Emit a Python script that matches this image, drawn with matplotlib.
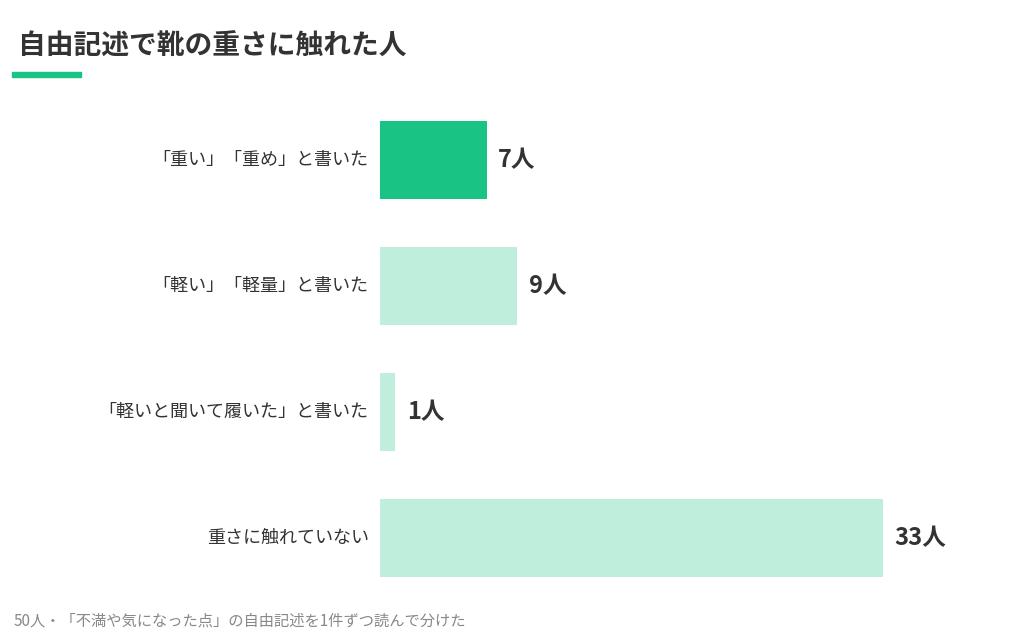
import matplotlib
matplotlib.use("Agg")
import matplotlib.pyplot as plt
from matplotlib.patches import Rectangle

plt.rcParams['font.family'] = ['Noto Sans CJK JP', 'DejaVu Sans']

categories = ["「重い」「重め」と書いた", "「軽い」「軽量」と書いた",
              "「軽いと聞いて履いた」と書いた", "重さに触れていない"]
counts = [7, 9, 1, 33]
colors = ["#18c384", "#c0eedc", "#c0eedc", "#c0eedc"]

W, H = 1024, 640
fig = plt.figure(figsize=(W / 100, H / 100), dpi=100)
fig.patch.set_facecolor("white")

# axes placed in pixel coords: x 380..1000, y 97..601
ax = fig.add_axes([380 / W, 1 - 601 / H, 620 / W, 504 / H])
ax.set_xlim(0, 620 / 15.24)
ax.set_ylim(3.5, -0.5)
ypos = range(len(categories))
ax.barh(ypos, counts, height=0.62, color=colors)
for y, c, lab in zip(ypos, counts, categories):
    ax.text(c + 0.75, y, f"{c}人", va="center", ha="left", fontsize=17,
            fontweight="bold", color="#333333")
    ax.text(-0.75, y, lab, va="center", ha="right", fontsize=13, color="#333333")
ax.axis("off")

fig.text(18 / W, 1 - 47 / H, "自由記述で靴の重さに触れた人", fontsize=20,
         fontweight="bold", color="#333333", va="center", ha="left")
fig.patches.append(Rectangle((12 / W, 1 - 77 / H), 69 / W, 5 / H,
                             transform=fig.transFigure, color="#18c384"))
fig.text(14 / W, 1 - 621 / H, "50人・「不満や気になった点」の自由記述を1件ずつ読んで分けた",
         fontsize=11, color="#888888", va="center", ha="left")

fig.savefig("out.png", dpi=100)
